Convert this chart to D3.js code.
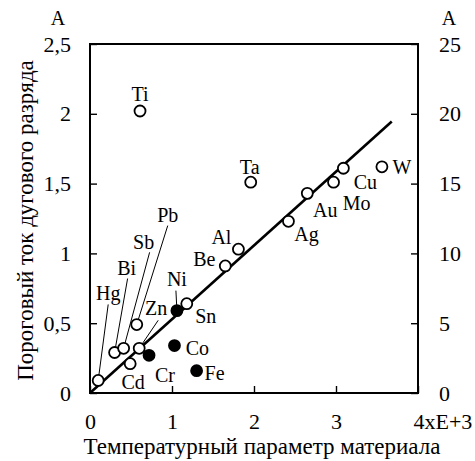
<!DOCTYPE html>
<html>
<head>
<meta charset="utf-8">
<script src="https://cdn.jsdelivr.net/npm/d3@7"></script>
<style>
body { margin: 0; background: #fff; }
text { font-family: "Liberation Serif", "DejaVu Serif", serif; fill: #000; }
</style>
</head>
<body>
<div id="chart"></div>
<script>
// metals, temperature parameter (x1000) and threshold arc current (A)
const names = ["Hg", "Bi", "Sb", "Pb", "Zn", "Cd", "Cr", "Co", "Fe", "Ni", "Sn", "Be", "Al", "Ti", "Ta", "Ag", "Au", "Mo", "Cu", "W"];
const tempParam = [0.10, 0.30, 0.41, 0.57, 0.60, 0.49, 0.72, 1.03, 1.30, 1.06, 1.18, 1.65, 1.81, 0.61, 1.96, 2.42, 2.65, 2.97, 3.09, 3.56];
const arcCurrent = [0.09, 0.29, 0.32, 0.49, 0.32, 0.21, 0.27, 0.34, 0.16, 0.59, 0.64, 0.91, 1.03, 2.02, 1.51, 1.23, 1.43, 1.51, 1.61, 1.62];
const filledMetals = ["Cr", "Co", "Fe", "Ni"];

// trend line ends
const fitX = [0, 3.68];
const fitY = [0, 1.945];

const xTicks = [0, 1, 2, 3, 4];
const yTicks = [0, 0.5, 1, 1.5, 2, 2.5];
const y2Ticks = [0, 5, 10, 15, 20, 25];

// label placement, px offset from the point
const labelOffset = {
    Hg: [10, -87], Bi: [12, -85], Sb: [20, -106], Pb: [31, -110], Zn: [17, -40],
    Cd: [3, 18], Cr: [16, 20], Co: [23, 2], Fe: [18, 2], Ni: [0, -32], Sn: [19, 12],
    Be: [-21, -7], Al: [-17, -12], Ti: [0, -17], Ta: [-1, -15], Ag: [18, 13],
    Au: [18, 17], Mo: [23, 21], Cu: [22, 14], W: [20, 0]
};
// leader line start, relative to label centre
const leaders = {Hg: [0, 11], Bi: [1, 11], Sb: [6, 10], Pb: [0, 11], Zn: [2, 12], Ni: [-1, 12]};

const width = 475, height = 461;
const margin = {top: 44, right: 57, bottom: 68, left: 90};
const r = 5.5;

const svg = d3.select("#chart").append("svg")
    .attr("width", width)
    .attr("height", height);

const x = d3.scaleLinear().domain([0, 4]).range([margin.left, width - margin.right]);
const y = d3.scaleLinear().domain([0, 2.5]).range([height - margin.bottom, margin.top]);
const y2 = d3.scaleLinear().domain([0, 25]).range([height - margin.bottom, margin.top]);

const fmtComma = (d) => String(d).replace(".", ",");

// axes, ticks point inward
let gx = svg.append("g")
    .attr("transform", `translate(0,${height - margin.bottom})`)
    .call(d3.axisBottom(x).tickValues(xTicks).tickSizeInner(-7).tickSizeOuter(0).tickPadding(20)
        .tickFormat((d) => d === 4 ? "4xE+3" : d));
gx.selectAll("text").filter((d) => d === 4).attr("text-anchor", "start").attr("dx", -5);

let gy = svg.append("g")
    .attr("transform", `translate(${margin.left},0)`)
    .call(d3.axisLeft(y).tickValues(yTicks).tickSizeInner(-7).tickSizeOuter(0).tickPadding(19)
        .tickFormat(fmtComma));

let gy2 = svg.append("g")
    .attr("transform", `translate(${width - margin.right},0)`)
    .call(d3.axisRight(y2).tickValues(y2Ticks).tickSizeInner(-7).tickSizeOuter(0).tickPadding(21));

[gx, gy, gy2].forEach(function(g){
    g.select(".domain").remove();
    g.selectAll("line").attr("stroke", "#000").attr("stroke-width", 1.4);
    g.selectAll("text").attr("font-size", 22).attr("fill", "#000");
});

// frame
svg.append("rect")
    .attr("x", x(0)).attr("y", y(2.5))
    .attr("width", x(4) - x(0)).attr("height", y(0) - y(2.5))
    .attr("fill", "none").attr("stroke", "#000").attr("stroke-width", 2);

// unit labels
svg.append("text").attr("x", margin.left - 32).attr("y", 25)
    .attr("text-anchor", "middle").attr("font-size", 20).text("A");
svg.append("text").attr("x", width - margin.right + 31).attr("y", 25)
    .attr("text-anchor", "middle").attr("font-size", 20).text("A");

// axis titles
svg.append("text")
    .attr("transform", `translate(33,${(y(0) + y(2.5)) / 2 + 2}) rotate(-90)`)
    .attr("text-anchor", "middle").attr("font-size", 23)
    .text("Пороговый ток дугового разряда");

svg.append("text")
    .attr("x", 262).attr("y", 454)
    .attr("text-anchor", "middle").attr("font-size", 23)
    .text("Температурный параметр материала");

// trend line
svg.append("line")
    .attr("x1", x(fitX[0])).attr("y1", y(fitY[0]))
    .attr("x2", x(fitX[1])).attr("y2", y(fitY[1]))
    .attr("stroke", "#000").attr("stroke-width", 2.6);

let points = names.map(function(n, i){
    return {name: n, x: x(tempParam[i]), y: y(arcCurrent[i]), filled: filledMetals.indexOf(n) >= 0};
});

// leader lines from labels down to points
let withLeader = points.filter((d) => leaders[d.name]);
svg.selectAll("line.leader").data(withLeader).enter()
    .append("line")
    .attr("class", "leader")
    .each(function(d){
        let off = labelOffset[d.name], ld = leaders[d.name];
        let sx = d.x + off[0] + ld[0], sy = d.y + off[1] + ld[1];
        let dx = d.x - sx, dy = d.y - sy, len = Math.sqrt(dx*dx + dy*dy);
        d3.select(this)
            .attr("x1", sx).attr("y1", sy)
            .attr("x2", d.x - dx / len * r).attr("y2", d.y - dy / len * r);
    })
    .attr("stroke", "#000").attr("stroke-width", 1);

svg.selectAll("circle").data(points).enter()
    .append("circle")
    .attr("cx", (d) => d.x)
    .attr("cy", (d) => d.y)
    .attr("r", r)
    .attr("fill", (d) => d.filled ? "#000" : "#fff")
    .attr("stroke", "#000")
    .attr("stroke-width", 1.8);

svg.selectAll("text.metal").data(points).enter()
    .append("text")
    .attr("class", "metal")
    .attr("x", (d) => d.x + labelOffset[d.name][0])
    .attr("y", (d) => d.y + labelOffset[d.name][1])
    .attr("text-anchor", "middle")
    .attr("dominant-baseline", "central")
    .attr("font-size", 20)
    .text((d) => d.name);
</script>
</body>
</html>
